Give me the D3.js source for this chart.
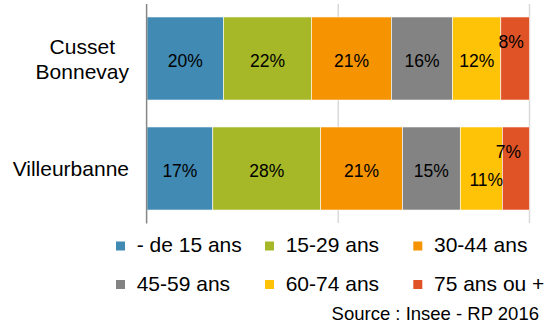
<!DOCTYPE html>
<html>
<head>
<meta charset="utf-8">
<script src="https://cdn.jsdelivr.net/npm/d3@7"></script>
<style>
  html, body { margin: 0; padding: 0; background: #fff; }
  svg { display: block; font-family: "Liberation Sans", Arial, sans-serif; }
</style>
</head>
<body>
<svg id="chart" width="548" height="326"></svg>
<script>
// ---- Data ----
const categories = ["Cusset\nBonnevay", "Villeurbanne"];
const seriesNames = ["- de 15 ans", "15-29 ans", "30-44 ans", "45-59 ans", "60-74 ans", "75 ans ou +"];
const seriesColors = ["#418AB3", "#A6B727", "#F59300", "#838383", "#FEC306", "#DF5327"];
// share of population (%) per age group, per category
const cussetValues = [20.0, 23.0, 20.9, 16.0, 12.6, 7.5];
const villeurbanneValues = [17.2, 28.2, 21.4, 15.1, 11.0, 7.1];
// data labels as printed on the chart
const cussetLabels = ["20%", "22%", "21%", "16%", "12%", "8%"];
const villeurbanneLabels = ["17%", "28%", "21%", "15%", "11%", "7%"];
const xTicks = [0, 50, 100];
const sourceText = "Source : Insee - RP 2016";

// ---- Layout ----
const svg = d3.select("#chart");
const x = d3.scaleLinear().domain([0, 100]).range([147, 529.5]);
const y = d3.scaleBand().domain(categories).range([4, 223]).paddingInner(0.245).paddingOuter(0.118);

const rows = [
  { cat: categories[0], values: cussetValues, labels: cussetLabels },
  { cat: categories[1], values: villeurbanneValues, labels: villeurbanneLabels }
];

// label nudges (manually placed labels in the original)
const nudges = { "0-5": [-4, -18.3], "1-5": [-7.5, -18.4], "1-4": [5, 9.3] };

// gridlines
svg.append("g").selectAll("line").data(xTicks.filter(d => d > 0)).join("line")
  .attr("x1", d => x(d)).attr("x2", d => x(d))
  .attr("y1", 4).attr("y2", 223)
  .attr("stroke", "#d9d9d9").attr("stroke-width", 1.5);

// bars
rows.forEach((row, ri) => {
  let cum = 0;
  const segs = row.values.map((v, i) => { const s = { x0: cum, x1: cum + v, i, label: row.labels[i] }; cum += v; return s; });
  const g = svg.append("g");
  g.selectAll("rect").data(segs).join("rect")
    .attr("x", d => x(d.x0))
    .attr("y", y(row.cat))
    .attr("width", d => x(d.x1) - x(d.x0))
    .attr("height", y.bandwidth())
    .attr("fill", d => seriesColors[d.i])
    .attr("stroke", "#fff").attr("stroke-width", 0.6);
  g.selectAll("text").data(segs).join("text")
    .attr("x", d => (x(d.x0) + x(d.x1)) / 2 + (nudges[ri + "-" + d.i] || [0, 0])[0])
    .attr("y", d => y(row.cat) + y.bandwidth() / 2 + 8.2 + (nudges[ri + "-" + d.i] || [0, 0])[1])
    .attr("text-anchor", "middle")
    .attr("font-size", "17.5px")
    .attr("fill", "#000")
    .text(d => d.label);
});

// left axis line
svg.append("line")
  .attr("x1", 146.6).attr("x2", 146.6).attr("y1", 4).attr("y2", 223.5)
  .attr("stroke", "#868686").attr("stroke-width", 1.5);

// category labels (block right-aligned, lines centered)
categories.forEach(cat => {
  const lines = cat.split("\n");
  const cy = y(cat) + y.bandwidth() / 2;
  const g = svg.append("g");
  const texts = lines.map((ln, i) => g.append("text")
    .attr("y", cy + 7.5 + (i - (lines.length - 1) / 2) * 25)
    .attr("text-anchor", "middle")
    .attr("font-size", "21px")
    .attr("fill", "#000")
    .text(ln));
  const maxW = d3.max(texts, t => t.node().getComputedTextLength());
  texts.forEach(t => t.attr("x", 129 - maxW / 2));
});

// legend
const legCols = [116, 265, 413.3];
const legRows = [241.5, 280];
const legend = svg.append("g");
seriesNames.forEach((name, i) => {
  const cx = legCols[i % 3], ry = legRows[Math.floor(i / 3)];
  legend.append("rect").attr("x", cx).attr("y", ry).attr("width", 9).attr("height", 9).attr("fill", seriesColors[i]);
  legend.append("text").attr("x", cx + 20.7).attr("y", ry + 10.8)
    .attr("font-size", "21px").attr("fill", "#000").text(name);
});

// source
svg.append("text").attr("x", 539).attr("y", 320).attr("text-anchor", "end")
  .attr("font-size", "18.5px").attr("fill", "#000").text(sourceText);
</script>
</body>
</html>
